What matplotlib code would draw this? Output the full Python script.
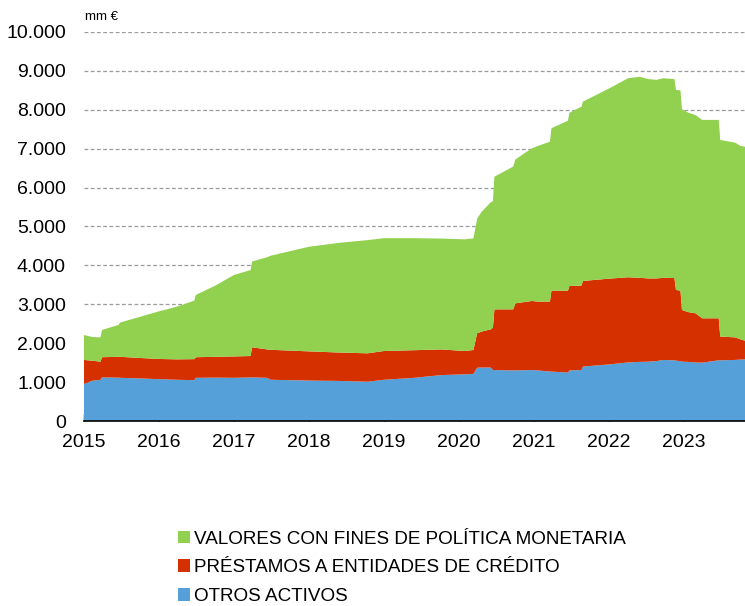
import numpy as np
import matplotlib
matplotlib.use("Agg")
import matplotlib.pyplot as plt
from matplotlib.ticker import FuncFormatter

plt.rcParams["font.family"] = ["Liberation Sans", "DejaVu Sans"]

# fecha (año decimal) y componentes del balance, mm de euros
fechas = [2015.00, 2015.11, 2015.22, 2015.24, 2015.46, 2015.48, 2015.75, 2016.00,
          2016.24, 2016.47, 2016.49, 2016.75, 2017.00, 2017.22, 2017.24, 2017.44,
          2017.49, 2018.00, 2018.40, 2018.78, 2019.00, 2019.40, 2019.76, 2020.07,
          2020.19, 2020.24, 2020.30, 2020.42, 2020.45, 2020.47, 2020.72, 2020.75,
          2020.97, 2021.05, 2021.21, 2021.23, 2021.45, 2021.47, 2021.63, 2021.65,
          2022.00, 2022.25, 2022.41, 2022.52, 2022.63, 2022.72, 2022.87, 2022.89,
          2022.95, 2022.97, 2023.05, 2023.15, 2023.24, 2023.46, 2023.48, 2023.68,
          2023.75, 2023.81]

otros = [950, 1035, 1060, 1120, 1115, 1110, 1095, 1075,
         1060, 1050, 1110, 1115, 1110, 1120, 1120, 1110,
         1060, 1040, 1030, 1010, 1060, 1110, 1180, 1200,
         1210, 1370, 1375, 1375, 1310, 1310, 1300, 1300,
         1310, 1300, 1270, 1270, 1245, 1300, 1310, 1400,
         1455, 1505, 1520, 1525, 1540, 1570, 1560, 1550,
         1540, 1525, 1520, 1505, 1500, 1560, 1560, 1570,
         1580, 1585]

prestamos = [620, 515, 465, 520, 535, 540, 525, 520,
             525, 540, 530, 535, 550, 550, 775, 730,
             770, 750, 730, 730, 740, 710, 660, 600,
             615, 885, 925, 980, 1090, 1560, 1570, 1725,
             1775, 1770, 1800, 2080, 2105, 2170, 2170, 2200,
             2205, 2190, 2160, 2140, 2125, 2110, 2115, 1820,
             1810, 1330, 1280, 1265, 1140, 1080, 610, 580,
             520, 480]

valores = [640, 610, 625, 700, 820, 880, 1060, 1225,
           1355, 1505, 1600, 1830, 2095, 2210, 2205, 2370,
           2420, 2690, 2820, 2910, 2900, 2880, 2850, 2870,
           2870, 2945, 3080, 3265, 3250, 3410, 3670, 3700,
           3925, 4000, 4110, 4175, 4370, 4455, 4600, 4610,
           4890, 5115, 5170, 5125, 5105, 5130, 5115, 5140,
           5150, 5160, 5130, 5095, 5100, 5100, 5055, 5005,
           4970, 4985]

etiquetas = ["OTROS ACTIVOS",
             "PRÉSTAMOS A ENTIDADES DE CRÉDITO",
             "VALORES CON FINES DE POLÍTICA MONETARIA"]
colores = ["#55A0D8", "#D43000", "#92D050"]
anios = list(range(2015, 2024))

fig = plt.figure(figsize=(7.45, 6.06), dpi=100)
ax = fig.add_axes([84 / 745, 1 - 421 / 606, 1 - 84 / 745, (421 - 32) / 606])

areas = ax.stackplot(fechas, otros, prestamos, valores, colors=colores,
                     labels=etiquetas, linewidth=0)

ax.set_xlim(2015, 2023.81)
ax.set_ylim(0, 10000)
ax.set_yticks(range(0, 10001, 1000))
ax.yaxis.set_major_formatter(FuncFormatter(lambda v, p: f"{int(v):,}".replace(",", ".")))
ax.set_xticks(anios)
ax.set_xticklabels([str(a) for a in anios])

ax.set_axisbelow(True)
ax.yaxis.grid(True, color="#9a9a9a", linestyle=(0, (3, 2)), linewidth=0.9)
for s in ["left", "top", "right"]:
    ax.spines[s].set_visible(False)
ax.spines["bottom"].set_color("black")
ax.spines["bottom"].set_linewidth(1.2)
ax.spines["bottom"].set_zorder(5)

ax.tick_params(axis="y", length=0, pad=13, labelsize=14)
ax.tick_params(axis="x", direction="in", length=5, width=1, pad=9.5, labelsize=14)

fig.text(85 / 745, 1 - 17 / 606, "mm €", fontsize=9.5, va="center", ha="left")

h, l = ax.get_legend_handles_labels()
fig.legend(h[::-1], l[::-1], loc="upper left", bbox_to_anchor=(178 / 745, 1 - 530.5 / 606),
           frameon=False, fontsize=13.6, handlelength=0.65, handleheight=0.65,
           handletextpad=0.2, labelspacing=0.63, borderpad=0, borderaxespad=0)

fig.savefig("out.png", dpi=100)
